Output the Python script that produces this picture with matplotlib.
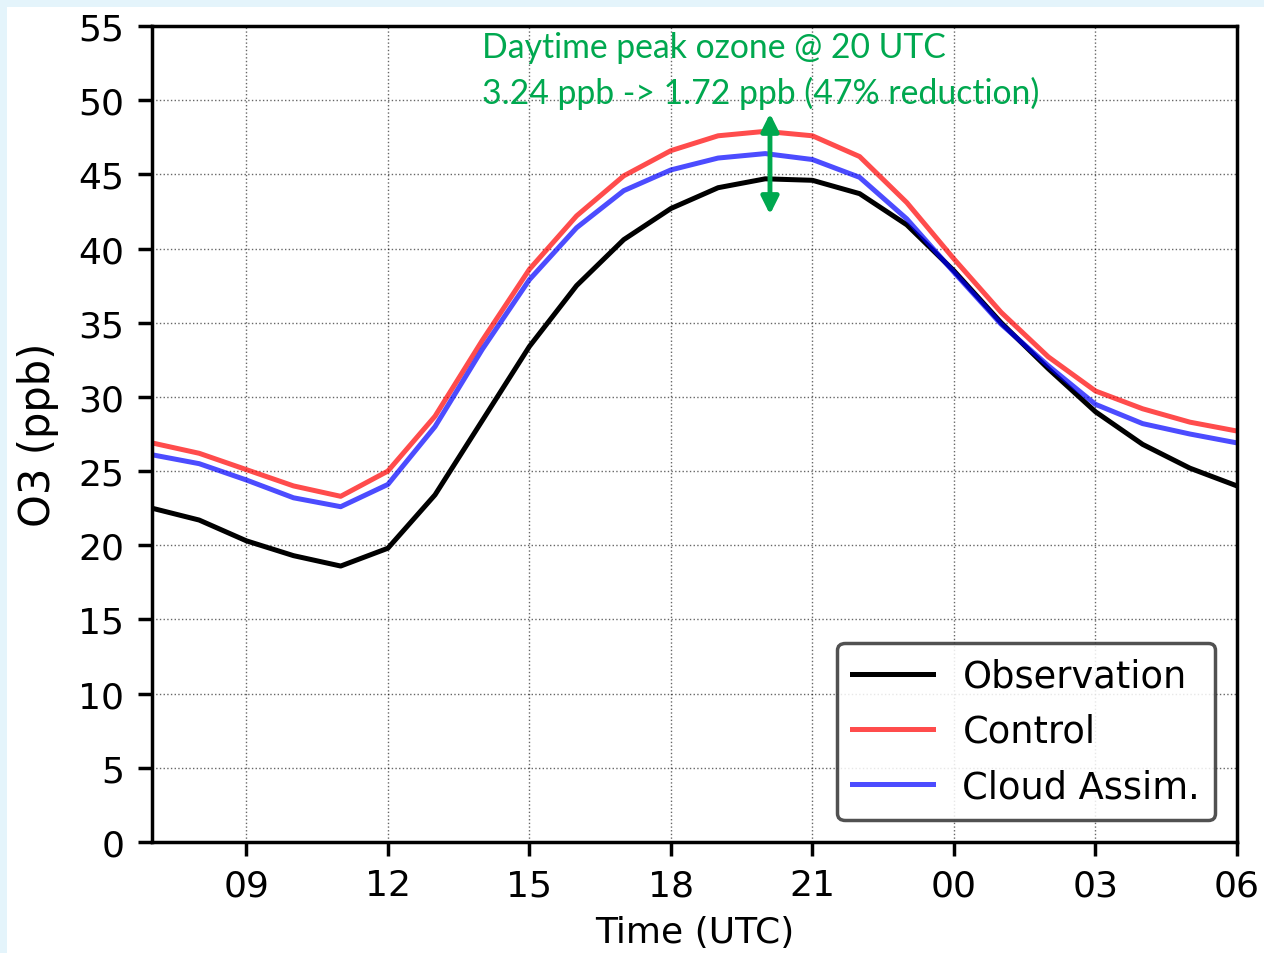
import matplotlib
matplotlib.use('Agg')
import matplotlib.pyplot as plt
from matplotlib.patches import Rectangle
import numpy as np

hours = list(range(7, 31))
obs = [22.5, 21.7, 20.3, 19.3, 18.6, 19.8, 23.4, 28.4, 33.4, 37.5, 40.6, 42.7,
       44.1, 44.7, 44.6, 43.7, 41.6, 38.5, 35.0, 31.9, 29.0, 26.8, 25.2, 24.0]
control = [26.9, 26.2, 25.1, 24.0, 23.3, 25.0, 28.7, 33.8, 38.6, 42.2, 44.9, 46.6,
           47.6, 47.9, 47.6, 46.2, 43.1, 39.3, 35.7, 32.7, 30.4, 29.2, 28.3, 27.7]
cloud = [26.1, 25.5, 24.4, 23.2, 22.6, 24.1, 28.0, 33.2, 37.9, 41.4, 43.9, 45.3,
         46.1, 46.4, 46.0, 44.8, 42.0, 38.4, 34.9, 32.1, 29.5, 28.2, 27.5, 26.9]
xtick_pos = [9, 12, 15, 18, 21, 24, 27, 30]
xtick_lab = ['09', '12', '15', '18', '21', '00', '03', '06']

green = '#00a84f'

fig = plt.figure(figsize=(12.64, 9.54), dpi=100, facecolor='#e4f4fb')
fig.add_artist(Rectangle((7 / 1264, 0), 1, 1 - 8 / 954, transform=fig.transFigure,
                         facecolor='white', edgecolor='none', zorder=-10))
ax = fig.add_axes([152 / 1264, 1 - 843 / 954, (1237 - 152) / 1264, (843 - 27) / 954])

ax.plot(hours, obs, color='k', lw=3.6, label='Observation')
ax.plot(hours, control, color='r', alpha=0.7, lw=3.6, label='Control')
ax.plot(hours, cloud, color='b', alpha=0.7, lw=3.6, label='Cloud Assim.')

ax.annotate('', xy=(20.1, 49.1), xytext=(20.1, 42.3),
            arrowprops=dict(arrowstyle='<|-|>', color=green, lw=3.5, mutation_scale=26,
                            shrinkA=0, shrinkB=0))
ax.text(14.0, 53.6, 'Daytime peak ozone @ 20 UTC', color=green, fontsize=24.3,
        family='Lato', va='center', ha='left')
ax.text(14.0, 50.5, '3.24 ppb -> 1.72 ppb (47% reduction)', color=green, fontsize=24.3,
        family='Lato', va='center', ha='left')

ax.set_xlim(7, 30)
ax.set_ylim(0, 55)
ax.set_xticks(xtick_pos)
ax.set_xticklabels(xtick_lab)
ax.set_yticks(np.arange(0, 56, 5))
ax.tick_params(labelsize=26, width=2.5, length=10)
ax.tick_params(axis='x', pad=9)
ax.tick_params(axis='y', pad=10)
ax.grid(color='k', linestyle=':', linewidth=1, alpha=0.6)
for s in ax.spines.values():
    s.set_linewidth(2.5)

ax.set_xlabel('Time (UTC)', fontsize=26, labelpad=9)
ax.set_ylabel('O3 (ppb)', fontsize=30, labelpad=14)

leg = ax.legend(loc='lower right', fontsize=26.5, handlelength=2.2, borderaxespad=0.6,
                fancybox=True, framealpha=0.85)
leg.get_frame().set_edgecolor('#333333')
leg.get_frame().set_linewidth(2.5)

fig.savefig('out.png', dpi=100, facecolor=fig.get_facecolor())
